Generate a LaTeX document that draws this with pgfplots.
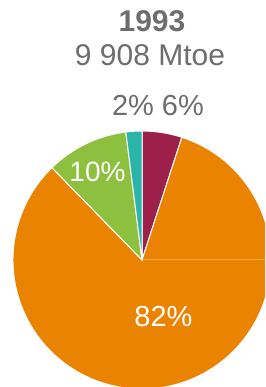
\documentclass[border=0pt]{standalone}
\usepackage{pgfplots}
\usepackage{pgfplotstable}
\pgfplotsset{compat=1.18}
\usepackage{fontspec}
\setmainfont{Liberation Sans}
\definecolor{cMaroon}{HTML}{9C2049}
\definecolor{cOrange}{HTML}{E98300}
\definecolor{cGreen}{HTML}{8DC03F}
\definecolor{cTeal}{HTML}{2BB5A8}
\definecolor{txt}{HTML}{6D6D6D}

\pgfplotstableread{
share colour
5.0 cMaroon
82.7 cOrange
10.3 cGreen
2.0 cTeal
}\piedata

\begin{document}
\begin{tikzpicture}[x=1pt,y=1pt]
\path[use as bounding box] (0,0) rectangle (265,387);
\clip (0,0) rectangle (265,387);
\xdef\cum{90}
\foreach \i in {0,1,2,3}{
  \pgfplotstablegetelem{\i}{share}\of\piedata
  \let\pval\pgfplotsretval
  \pgfplotstablegetelem{\i}{colour}\of\piedata
  \expandafter\xdef\csname pc\i\endcsname{\pgfplotsretval}
  \pgfmathsetmacro{\pend}{\cum-3.6*\pval}
  \expandafter\xdef\csname ps\i\endcsname{\cum}
  \expandafter\xdef\csname pe\i\endcsname{\pend}
  \xdef\cum{\pend}
}
\begin{axis}[at={(142pt,127pt)}, anchor=center, x=129pt, y=129pt,
  xmin=-1, xmax=1, ymin=-1, ymax=1, hide axis, clip=false]
\pgfplotsinvokeforeach{0,1,2,3}{
  \edef\temp{\noexpand\fill[fill=\csname pc#1\endcsname, draw=white, line width=1pt]
    (axis cs:0,0) -- (axis cs:{cos(\csname ps#1\endcsname)},{sin(\csname ps#1\endcsname)})
    arc[start angle=\csname ps#1\endcsname, end angle=\csname pe#1\endcsname, radius=129pt] -- cycle;}
  \temp
}
\draw[white, opacity=0.3, line width=1pt] (axis cs:0,0) -- (axis cs:1,0);
\end{axis}
\node[anchor=base, text=txt, font=\fontsize{30}{36}\selectfont\bfseries] at (152,355) {1993};
\node[anchor=base, text=txt, font=\fontsize{30}{36}\selectfont] at (150,321) {9 908 Mtoe};
\node[anchor=base, text=txt, font=\fontsize{29}{35}\selectfont] at (158,271) {2\% 6\%};
\node[anchor=base, text=white, font=\fontsize{28}{34}\selectfont] at (97.5,205) {10\%};
\node[anchor=base, text=white, font=\fontsize{29}{35}\selectfont] at (163.5,60) {82\%};
\end{tikzpicture}
\end{document}
